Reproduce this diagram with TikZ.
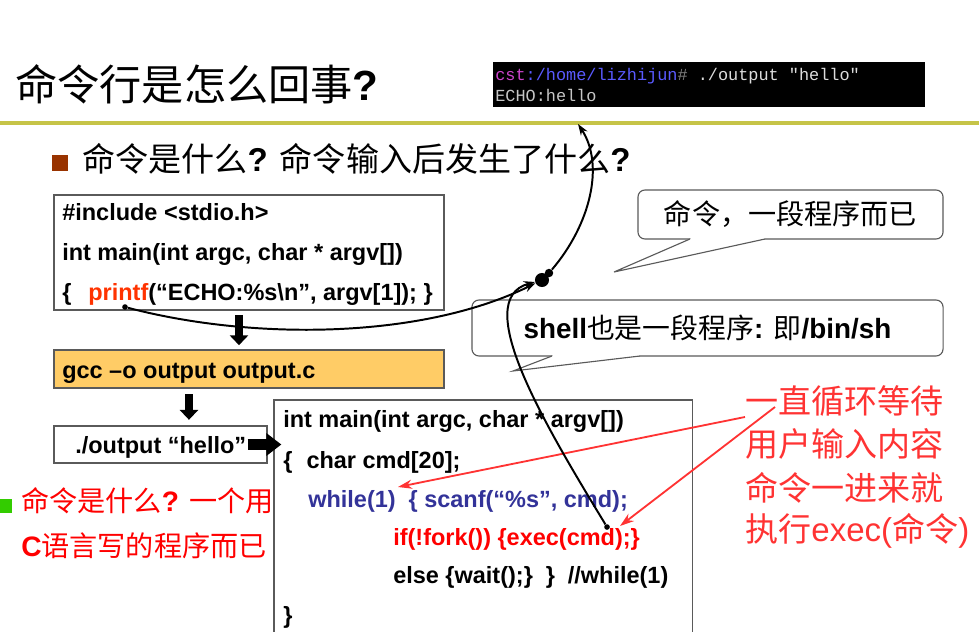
\documentclass[tikz,border=0pt]{standalone}
\usepackage{fontspec}
\usepackage{xcolor}
\usetikzlibrary{arrows.meta}
\setmainfont{Liberation Sans}
\setmonofont{Liberation Mono}
\newfontfamily\zh{Noto Sans CJK SC}

\definecolor{rulegold}{RGB}{198,196,72}
\definecolor{bullbrown}{RGB}{153,51,0}
\definecolor{bullgreen}{RGB}{51,204,0}
\definecolor{gccfill}{RGB}{255,204,102}
\definecolor{pfred}{RGB}{255,51,0}
\definecolor{codeblue}{RGB}{51,51,153}
\definecolor{codered}{RGB}{255,0,0}
\definecolor{notered}{RGB}{255,51,51}
\definecolor{termpink}{RGB}{204,68,204}
\definecolor{termblue}{RGB}{90,90,255}
\definecolor{termgray}{RGB}{220,220,220}
\definecolor{boxgray}{RGB}{90,90,90}

\newcommand{\FC}{\fontsize{16.7}{20}\selectfont\bfseries}
\newcommand{\FT}{\fontsize{30}{36}\selectfont}
\newcommand{\FQ}{\fontsize{23.5}{28}\selectfont}
\newcommand{\FN}{\fontsize{20}{24}\selectfont}
\newcommand{\FS}{\fontsize{19.8}{24}\selectfont}
\newcommand{\FM}{\fontsize{12}{14}\selectfont\ttfamily}

\begin{document}
\begin{tikzpicture}[x=0.025cm,y=-0.025cm]
\tikzstyle{txt}=[anchor=base west,inner sep=0pt]
\tikzstyle{code}=[txt,font=\FC]
\tikzstyle{box}=[draw=boxgray,line width=0.8pt,inner sep=0pt]
\tikzstyle{say}=[draw=boxgray,line width=0.8pt,fill=white,rounded corners=5pt,inner sep=0pt]
\tikzstyle{fat}=[line width=5.7pt,-{Triangle[length=7pt,width=12.8pt]}]
\tikzstyle{curve}=[line width=1.4pt,-{Stealth[length=8pt,width=5.5pt]}]
\tikzstyle{hint}=[notered,line width=1.3pt,-{Stealth[length=10pt,width=6.5pt]}]
\tikzstyle{dot}=[circle,fill=black,inner sep=0pt,minimum size=4pt]

\useasboundingbox (0,0) rectangle (979,631);
\clip (0,0) rectangle (979,631);

% title and rule
\node[txt,font=\FT] (title) at (15,100) {{\zh 命令行是怎么回事}\textbf{?}};
\draw[rulegold,line width=3.5pt] (0,123) -- (979,123);

% terminal
\fill[black] (493,62) rectangle (925,107);
\node[txt,font=\FM] (cmdline) at (495,80) {\textcolor{termpink}{cst}\textcolor{termblue}{:/home/lizhijun}\textcolor{gray}{\#} \textcolor{termgray}{./output "hello"}};
\node[txt,font=\FM,text=termgray!90!black] (echo) at (495,101) {ECHO:hello};

% question
\fill[bullbrown] (52,155) rectangle (68,171);
\node[txt,font=\FQ] (ask) at (82,171) {{\zh 命令是什么}\textbf{?} {\zh 命令输入后发生了什么}\textbf{?}};

% source file
\node[box,minimum width=9.75cm,minimum height=2.875cm] (src) at (249,252.5) {};
\node[code] (inc) at (62,220) {\#include <stdio.h>};
\node[code] (sig) at (62,260) {int main(int argc, char * argv[])};
\node[code] (body) at (62,300) {\{\hspace{0.72em}\textcolor{pfred}{printf}(“ECHO:\%s\textbackslash n”, argv[1]); \}};

% compile
\node[box,fill=gccfill,minimum width=9.75cm,minimum height=0.95cm] (gcc) at (249,369) {};
\node[code] (gcctxt) at (62,378) {gcc –o output output.c};

% run
\node[box,minimum width=5.325cm,minimum height=0.925cm] (run) at (160.5,444.5) {};
\node[code] (runtxt) at (75,453) {./output “hello”};

% shell program
\node[box,fill=white,minimum width=10.45cm,minimum height=5.95cm] (shell) at (483,519) {};
\node[code] (s1) at (283,427) {int main(int argc, char * argv[])};
\node[code] (s2) at (283,468) {\{\hspace{0.6em}char cmd[20];};
\node[code,text=codeblue] (s3) at (308,507) {while(1)\hspace{0.55em}\{ scanf(“\%s”, cmd);};
\node[code,text=codered] (s4) at (393,545) {if(!fork()) \{exec(cmd);\}};
\node[code] (s5) at (393,583) {else \{wait();\}\hspace{0.55em}\}\hspace{0.55em}//while(1)};
\node[code] (s6) at (283,623) {\}};

% block arrows
\draw[fat,shorten <=3pt,shorten >=3pt] ([xshift=-0.25cm]src.south) -- ([xshift=-0.25cm]gcc.north);
\draw[fat,shorten <=4pt,shorten >=4pt] ([xshift=-1.5cm]gcc.south) -- ([xshift=-1.5cm]gcc.south |- run.north);
\draw[line width=8.5pt,-{Triangle[length=10.7pt,width=15.6pt]},shorten >=-0.2cm] ([xshift=-0.5cm]run.east) -- (run.east -| shell.west);

% callouts
\node[say,minimum width=7.625cm,minimum height=1.225cm,font=\FN] (say1) at (790.5,214.5) {\zh 命令，一段程序而已};
\fill[white] (691,238) -- (690,239) -- (614,272) -- (765,239) -- (764,238) -- cycle;
\draw[boxgray,line width=0.8pt] (690,239) -- (614,272) -- (765,239);

\node[say,minimum width=11.775cm,minimum height=1.4cm,font=\FS] (say2) at (707.5,328) {\textbf{shell}{\zh 也是一段程序}\textbf{: }{\zh 即}\textbf{/bin/sh}};
\fill[white] (553,355) -- (552,356) -- (513,371) -- (640,356) -- (639,355) -- cycle;
\draw[boxgray,line width=0.8pt] (552,356) -- (513,371) -- (640,356);

% notes
\fill[bullgreen] (0,499) rectangle (12,513);
\node[txt,font=\FN,text=codered] (n1) at (21,511) {{\zh 命令是什么}\textbf{?} {\zh 一个用}};
\node[txt,font=\FN,text=codered] (n2) at (21,556) {\textbf{C}{\zh 语言写的程序而已}};

\node[txt,font=\FQ,text=notered] (w1) at (745,413) {\zh 一直循环等待};
\node[txt,font=\FQ,text=notered] (w2) at (745,456) {\zh 用户输入内容};
\node[txt,font=\FQ,text=notered] (w3) at (745,500) {\zh 命令一进来就};
\node[txt,font=\FQ,text=notered] (w4) at (745,541) {{\zh 执行}exec({\zh 命令})};

\coordinate (h1) at (745,417);
\coordinate (h2) at (775,407);
\coordinate (loop) at (398,487);
\coordinate (run2) at (620,526);
\draw[hint] (h1) -- (loop);
\draw[hint] (h2) -- (run2);

% flow of the program
\node[dot] (pf) at (125,307) {};
\node[dot] (ex) at (607,527) {};
\node[circle,fill=black,inner sep=0pt,minimum size=10pt] (hub) at (542,280) {};
\node[dot,minimum size=6pt] (hub2) at (549,273) {};
\coordinate (up) at (578,124);

\draw[curve] (pf) .. controls (250,340) and (420,340) .. (hub);
\draw[curve] (ex) .. controls (545,425) and (470,300) .. (hub);
\draw[curve] (hub2) .. controls (590,225) and (605,165) .. (up);
\end{tikzpicture}
\end{document}
